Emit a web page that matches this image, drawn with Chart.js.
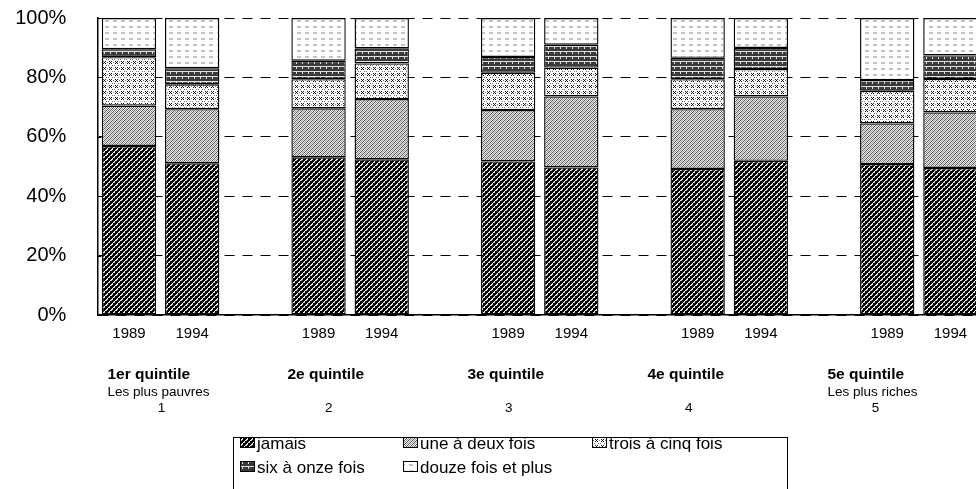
<!DOCTYPE html>
<html>
<head>
<meta charset="utf-8">
<script src="https://cdn.jsdelivr.net/npm/chart.js@4"></script>
<style>
  html, body { margin: 0; padding: 0; background: #fff; overflow: hidden; }
  #wrap { position: relative; width: 982px; height: 489px; }
</style>
</head>
<body>
<div id="wrap"><canvas id="myChart"></canvas></div>
<script>
// category slots: 1989 / 1994 / gap, per quintile
const categories = ['1989', '1994', '', '1989', '1994', '', '1989', '1994', '', '1989', '1994', '', '1989', '1994'];

// percent shares per segment
const jamais     = [56.9, 51.1, null, 53.1, 52.4, null, 51.7, 49.7, null, 49.2, 51.9, null, 50.8, 49.5];
const uneADeux   = [13.6, 18.2, null, 16.5, 20.3, null, 17.3, 23.9, null, 20.1, 21.7, null, 13.7, 18.7];
const troisACinq = [16.3, 8.4, null, 9.8, 12.0, null, 12.6, 9.7, null, 10.1, 9.2, null, 11.0, 11.3];
const sixAOnze   = [2.7, 5.4, null, 6.2, 5.1, null, 5.3, 7.7, null, 7.2, 7.1, null, 3.6, 7.9];
const douzePlus  = [10.5, 16.9, null, 14.4, 10.2, null, 13.1, 9.0, null, 13.4, 10.1, null, 20.9, 12.6];

const seriesLabels = ['jamais', 'une à deux fois', 'trois à cinq fois', 'six à onze fois', 'douze fois et plus'];

const quintileTitles = ['1er quintile', '2e quintile', '3e quintile', '4e quintile', '5e quintile'];
const quintileSubtitles = ['Les plus pauvres', '', '', '', 'Les plus riches'];
const quintileNumbers = ['1', '2', '3', '4', '5'];

const yTicks = [0, 20, 40, 60, 80, 100];

const FONT = '"Liberation Sans", Arial, sans-serif';

function makePattern(w, h, draw) {
  const c = document.createElement('canvas');
  c.width = w;
  c.height = h;
  const g = c.getContext('2d');
  draw(g, w, h);
  return document.getElementById('myChart').getContext('2d').createPattern(c, 'repeat');
}

const patJamais = makePattern(5, 5, (g, w, h) => {
  g.fillStyle = '#000';
  g.fillRect(0, 0, w, h);
  for (let y = 0; y < h; y++) {
    for (let x = 0; x < w; x++) {
      if ((x + y) % 5 === 0) { g.fillStyle = '#fff'; g.fillRect(x, y, 1, 1); }
      if ((x + y) % 5 === 1 && y % 2 === 0) { g.fillStyle = '#ccc'; g.fillRect(x, y, 1, 1); }
    }
  }
});

const patUne = makePattern(4, 4, (g, w, h) => {
  g.fillStyle = '#ececec';
  g.fillRect(0, 0, w, h);
  for (let y = 0; y < h; y++) {
    for (let x = 0; x < w; x++) {
      if ((x + y) % 4 === 0) { g.fillStyle = '#555'; g.fillRect(x, y, 1, 1); }
      if ((x + y) % 4 === 2) { g.fillStyle = '#9a9a9a'; g.fillRect(x, y, 1, 1); }
    }
  }
});

const patTrois = makePattern(6, 6, (g, w, h) => {
  g.fillStyle = '#fff';
  g.fillRect(0, 0, w, h);
  g.fillStyle = '#111';
  g.fillRect(1, 1, 1, 1);
  g.fillRect(3, 1, 1, 1);
  g.fillRect(2, 2, 1, 1);
  g.fillRect(1, 3, 1, 1);
  g.fillRect(3, 3, 1, 1);
  g.fillStyle = '#777';
  g.fillRect(5, 2, 1, 1);
  g.fillRect(0, 5, 1, 1);
  g.fillRect(4, 5, 1, 1);
});

const patSix = makePattern(6, 5, (g, w, h) => {
  g.fillStyle = '#3a3a3a';
  g.fillRect(0, 0, w, h);
  g.fillStyle = '#e0e0e0';
  g.fillRect(0, 1, w, 1);
  g.fillRect(2, 2, 1, 2);
});

const patDouze = makePattern(8, 6, (g, w, h) => {
  g.fillStyle = '#fff';
  g.fillRect(0, 0, w, h);
  g.fillStyle = '#c4c4c4';
  g.fillRect(1, 2, 4, 2);
});

const patterns = [patJamais, patUne, patTrois, patSix, patDouze];
const seriesData = [jamais, uneADeux, troisACinq, sixAOnze, douzePlus];

const quintileLabels = {
  id: 'quintileLabels',
  afterDraw(chart) {
    const { ctx, chartArea } = chart;
    ctx.save();
    ctx.fillStyle = '#000';
    ctx.textBaseline = 'middle';
    quintileTitles.forEach((title, i) => {
      const left = chartArea.left + 10 + i * 180;
      ctx.font = 'bold 15.5px ' + FONT;
      ctx.textAlign = 'left';
      ctx.fillText(title, left, 375);
      const tw = ctx.measureText(title).width;
      ctx.font = '13.5px ' + FONT;
      ctx.fillText(quintileSubtitles[i], left, 392);
      const sw = ctx.measureText(quintileSubtitles[i]).width;
      ctx.textAlign = 'center';
      ctx.fillText(quintileNumbers[i], left + Math.max(tw, sw) / 2 + 3, 408);
    });
    ctx.restore();
  }
};

const yInnerTicks = {
  id: 'yInnerTicks',
  afterDatasetsDraw(chart) {
    const { ctx, chartArea, scales } = chart;
    ctx.save();
    ctx.strokeStyle = '#000';
    ctx.lineWidth = 1;
    yTicks.forEach(v => {
      const y = Math.round(scales.y.getPixelForValue(v)) + 0.5;
      ctx.beginPath();
      ctx.moveTo(chartArea.left, y);
      ctx.lineTo(chartArea.left + 4, y);
      ctx.stroke();
    });
    ctx.restore();
  }
};

const boxLegend = {
  id: 'boxLegend',
  afterDraw(chart) {
    const { ctx } = chart;
    const boxX = 233.5, boxY = 437.5, boxW = 554, boxH = 60;
    const cols = [240, 403, 592];
    const rows = [443, 467];
    ctx.save();
    ctx.strokeStyle = '#000';
    ctx.lineWidth = 1;
    ctx.strokeRect(boxX, boxY, boxW, boxH);
    ctx.font = '17px ' + FONT;
    ctx.textBaseline = 'middle';
    ctx.textAlign = 'left';
    chart.data.datasets.forEach((ds, i) => {
      const x = cols[i % 3];
      const y = rows[Math.floor(i / 3)];
      ctx.fillStyle = ds.backgroundColor;
      ctx.fillRect(x, y - 6, 15, 11);
      ctx.strokeRect(x + 0.5, y - 5.5, 14, 10);
      ctx.fillStyle = '#000';
      ctx.fillText(ds.label, x + 17, y + 1);
    });
    ctx.restore();
  }
};

new Chart(document.getElementById('myChart'), {
  type: 'bar',
  data: {
    labels: categories,
    datasets: seriesLabels.map((label, i) => ({
      label: label,
      data: seriesData[i],
      backgroundColor: patterns[i],
      borderColor: '#000',
      borderWidth: 1.4,
      borderSkipped: false,
      categoryPercentage: 1,
      barPercentage: 0.86
    }))
  },
  options: {
    responsive: true,
    maintainAspectRatio: false,
    animation: false,
    layout: { padding: { top: 18, right: 0, bottom: 0, left: 0 } },
    plugins: {
      legend: { display: false },
      tooltip: { enabled: false }
    },
    scales: {
      x: {
        stacked: true,
        grid: { display: false, drawTicks: false },
        border: { display: true, color: '#000', width: 1.5 },
        ticks: {
          autoSkip: false,
          maxRotation: 0,
          padding: 10,
          color: '#000',
          font: { family: FONT, size: 15 }
        },
        afterFit(scale) { scale.height = 174; }
      },
      y: {
        stacked: true,
        min: 0,
        max: 100,
        grid: {
          color: '#000',
          lineWidth: 1,
          drawTicks: true,
          tickLength: 27,
          tickColor: 'rgba(0,0,0,0)'
        },
        border: { display: true, color: '#000', width: 1.5, dash: [10, 8] },
        ticks: {
          stepSize: 20,
          padding: 4,
          color: '#000',
          font: { family: FONT, size: 20 },
          callback: v => v + '%'
        },
        afterFit(scale) { scale.width = 97.4; }
      }
    }
  },
  plugins: [yInnerTicks, quintileLabels, boxLegend]
});
</script>
</body>
</html>
